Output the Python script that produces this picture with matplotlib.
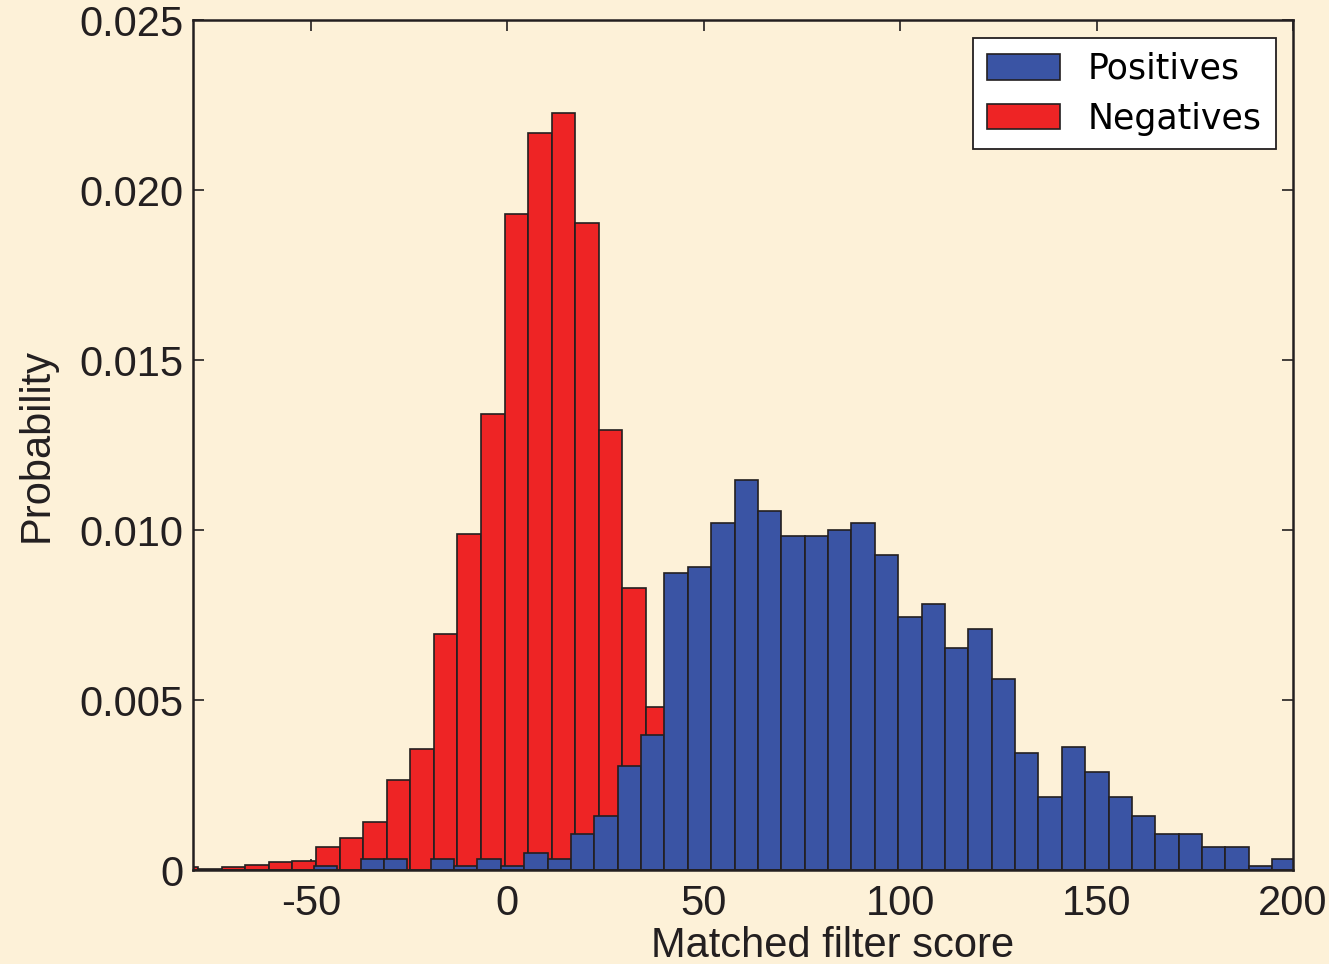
import numpy as np
import matplotlib
matplotlib.use("Agg")
import matplotlib.pyplot as plt

# ---- data ----
neg_start = -84.7
neg_width = 6.0
neg_values = [0.0001, 0.00004, 0.00008, 0.00015, 0.00024, 0.00027, 0.00067,
              0.00095, 0.0014, 0.00264, 0.00356, 0.00693, 0.00987, 0.0134,
              0.0193, 0.02168, 0.02227, 0.01904, 0.01294, 0.0083, 0.0048]

pos_start = -49.25
pos_width = 5.95
pos_values = [0.00013, 0.0, 0.00032, 0.00032, 0.0, 0.00032, 0.00013, 0.00032,
              0.00013, 0.00051, 0.00032, 0.00105, 0.0016, 0.00306, 0.00397,
              0.00873, 0.00891, 0.0102, 0.01147, 0.01056, 0.00982, 0.00982,
              0.01001, 0.0102, 0.00927, 0.00745, 0.00781, 0.00653, 0.00708,
              0.00563, 0.00343, 0.00216, 0.00361, 0.00287, 0.00216, 0.0016,
              0.00105, 0.00105, 0.00069, 0.00069, 0.00013, 0.00032]

x_ticks = [-50, 0, 50, 100, 150, 200]
y_ticks = [0, 0.005, 0.010, 0.015, 0.020, 0.025]
y_ticklabels = ["0", "0.005", "0.010", "0.015", "0.020", "0.025"]
labels = ["Positives", "Negatives"]

# ---- style ----
BG = "#FDF1D8"
RED = "#EE2425"
BLUE = "#3A54A4"
EDGE = "#231F20"

fig = plt.figure(figsize=(13.29, 9.64), dpi=100, facecolor=BG)
ax = fig.add_axes([193/1329, 1 - 870/964, 1100/1329, 850/964])
ax.set_facecolor(BG)

neg_left = neg_start + neg_width * np.arange(len(neg_values))
pos_left = pos_start + pos_width * np.arange(len(pos_values))

neg_mask = np.array(neg_values) > 0
pos_mask = np.array(pos_values) > 0

hneg = ax.bar(neg_left[neg_mask], np.array(neg_values)[neg_mask], width=neg_width,
              align="edge", color=RED, edgecolor=EDGE, linewidth=1.2, zorder=2)
hpos = ax.bar(pos_left[pos_mask], np.array(pos_values)[pos_mask], width=pos_width,
              align="edge", color=BLUE, edgecolor=EDGE, linewidth=1.2, zorder=3)

ax.set_xlim(-80, 200)
ax.set_ylim(0, 0.025)

ax.set_xticks(x_ticks)
ax.set_xticklabels([str(t) for t in x_ticks])
ax.set_yticks(y_ticks)
ax.set_yticklabels(y_ticklabels)

tick_font = "Liberation Sans"
for lab in ax.get_xticklabels() + ax.get_yticklabels():
    lab.set_fontfamily(tick_font)
    lab.set_fontsize(30)
    lab.set_color("#231F20")

ax.tick_params(axis="both", direction="in", length=8, width=1.2,
               top=True, right=True, color="#231F20")
ax.tick_params(axis="x", pad=10)
ax.tick_params(axis="y", pad=7)

for sp in ax.spines.values():
    sp.set_linewidth(1.8)
    sp.set_color("#231F20")
    sp.set_zorder(5)

ax.set_xlabel("Matched filter score", fontfamily=tick_font, fontsize=30, color="#231F20")
ax.xaxis.set_label_coords(0.581, -0.066)
ax.set_ylabel("Probability", fontfamily=tick_font, fontsize=30, color="#231F20")
ax.yaxis.set_label_coords(-0.124, 0.5)

leg = ax.legend([hpos, hneg], labels, loc="upper right",
                bbox_to_anchor=(0.9845, 0.9788), borderaxespad=0,
                prop={"family": "DejaVu Sans", "size": 25},
                fancybox=False, framealpha=1, edgecolor="#231F20",
                handlelength=2.1, handleheight=0.75, handletextpad=0.8,
                labelspacing=0.45, borderpad=0.4)
leg.get_frame().set_linewidth(1.3)
leg.get_frame().set_facecolor("white")
leg.set_zorder(10)

fig.savefig("out.png", dpi=100, facecolor=BG)
